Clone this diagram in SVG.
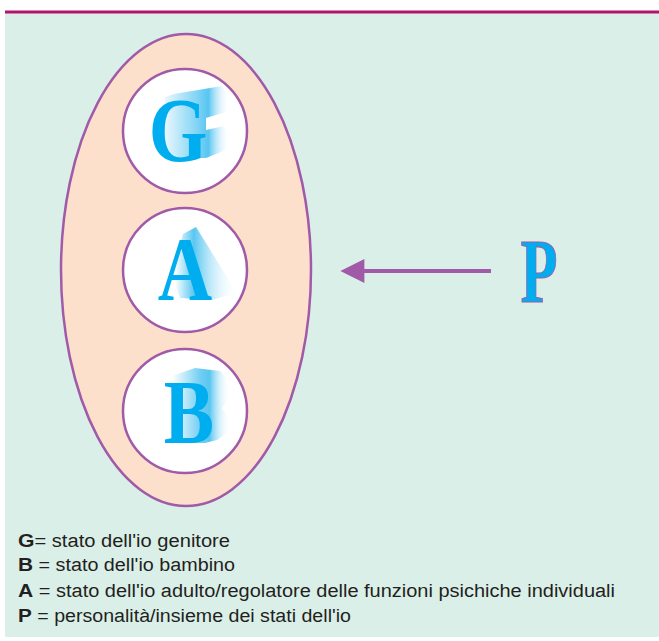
<svg xmlns="http://www.w3.org/2000/svg" width="659" height="641" viewBox="0 0 659 641">
<defs>
<style>
.st{fill:#fff;stroke:#a05aa8;stroke-width:2.5}
.big{font-family:"Liberation Serif",serif;font-weight:bold;fill:#00aeef}
.leg{font-family:"Liberation Sans",Arial,sans-serif;font-size:18px;fill:#231f20}
.legb{font-weight:bold;font-size:19px}
</style>
<linearGradient id="extG" gradientUnits="userSpaceOnUse" x1="158" y1="0" x2="230" y2="0">
<stop offset="0" stop-color="#ffffff"/>
<stop offset="0.55" stop-color="#7fd3f5"/>
<stop offset="0.7" stop-color="#57c5f1"/>
<stop offset="1" stop-color="#ffffff" stop-opacity="0"/>
</linearGradient>
<linearGradient id="extA" gradientUnits="userSpaceOnUse" x1="175" y1="0" x2="238" y2="0">
<stop offset="0" stop-color="#ffffff"/>
<stop offset="0.3" stop-color="#5ac6f1"/>
<stop offset="1" stop-color="#ffffff" stop-opacity="0"/>
</linearGradient>
<linearGradient id="extB" gradientUnits="userSpaceOnUse" x1="172" y1="0" x2="230" y2="0">
<stop offset="0" stop-color="#ffffff"/>
<stop offset="0.5" stop-color="#6fcdf3"/>
<stop offset="0.65" stop-color="#5ac6f1"/>
<stop offset="1" stop-color="#ffffff" stop-opacity="0"/>
</linearGradient>
<marker id="ah" viewBox="0 0 10 10" refX="1" refY="5" markerWidth="7" markerHeight="6" markerUnits="strokeWidth" orient="auto-start-reverse">
<path d="M0,0 L10,5 L0,10 z" fill="#a05aa8"/>
</marker>
</defs>
<rect x="0" y="0" width="659" height="641" fill="#fff"/>
<rect x="5" y="13" width="654" height="624" fill="#dbefe9"/>
<line x1="5" y1="12" x2="659" y2="12" stroke="#b5126e" stroke-width="3"/>
<g id="P-ellipse">
<ellipse cx="186" cy="270" rx="125" ry="236" fill="#fde0cc" stroke="#a05aa8" stroke-width="2.5"/>
</g>
<g id="G">
<circle class="st" cx="185" cy="131" r="62"/>
<path d="M165,97 L174,94 L222,86 L228,95 L226,112 L206,118 L206,130 L224,126 L228,135 L226,150 L206,158 L180,158 L162,150 Z" fill="url(#extG)"/>
<text class="big" x="178" y="161" font-size="92" text-anchor="middle" transform="translate(178 0) scale(0.82 1) translate(-178 0)">G</text>
</g>
<g id="A">
<circle class="st" cx="185" cy="270" r="62"/>
<path d="M183,234 L196,227 L237,293 L212,300 L180,298 L172,275 Z" fill="url(#extA)"/>
<text class="big" x="185" y="300" font-size="92" text-anchor="middle" transform="translate(185 0) scale(0.82 1) translate(-185 0)">A</text>
</g>
<g id="B">
<circle class="st" cx="185" cy="411" r="62"/>
<path d="M172,376 L195,368 L220,371 L229,380 L229,398 L222,408 L229,418 L229,432 L217,440 L205,443 L176,443 Z" fill="url(#extB)"/>
<text class="big" x="189" y="443" font-size="92" text-anchor="middle" transform="translate(189 0) scale(0.82 1) translate(-189 0)">B</text>
</g>
<g id="connectors">
<line x1="491" y1="271" x2="362" y2="271" stroke="#a05aa8" stroke-width="4" marker-end="url(#ah)"/>
</g>
<g id="P">
<text x="539" y="302" font-family="'Liberation Serif',serif" font-size="92" font-weight="bold" fill="#00aeef" stroke="#a05aa8" stroke-width="1" text-anchor="middle" transform="translate(539 0) scale(0.66 1) translate(-539 0)">P</text>
</g>
<g id="legend">
<text class="leg" x="18" y="547" textLength="212" lengthAdjust="spacingAndGlyphs"><tspan class="legb">G</tspan>= stato dell'io genitore</text>
<text class="leg" x="18" y="571" textLength="217" lengthAdjust="spacingAndGlyphs"><tspan class="legb">B</tspan> = stato dell'io bambino</text>
<text class="leg" x="18" y="597" textLength="597" lengthAdjust="spacingAndGlyphs"><tspan class="legb">A</tspan> = stato dell'io adulto/regolatore delle funzioni psichiche individuali</text>
<text class="leg" x="18" y="622" textLength="333" lengthAdjust="spacingAndGlyphs"><tspan class="legb">P</tspan> = personalità/insieme dei stati dell'io</text>
</g>
</svg>
